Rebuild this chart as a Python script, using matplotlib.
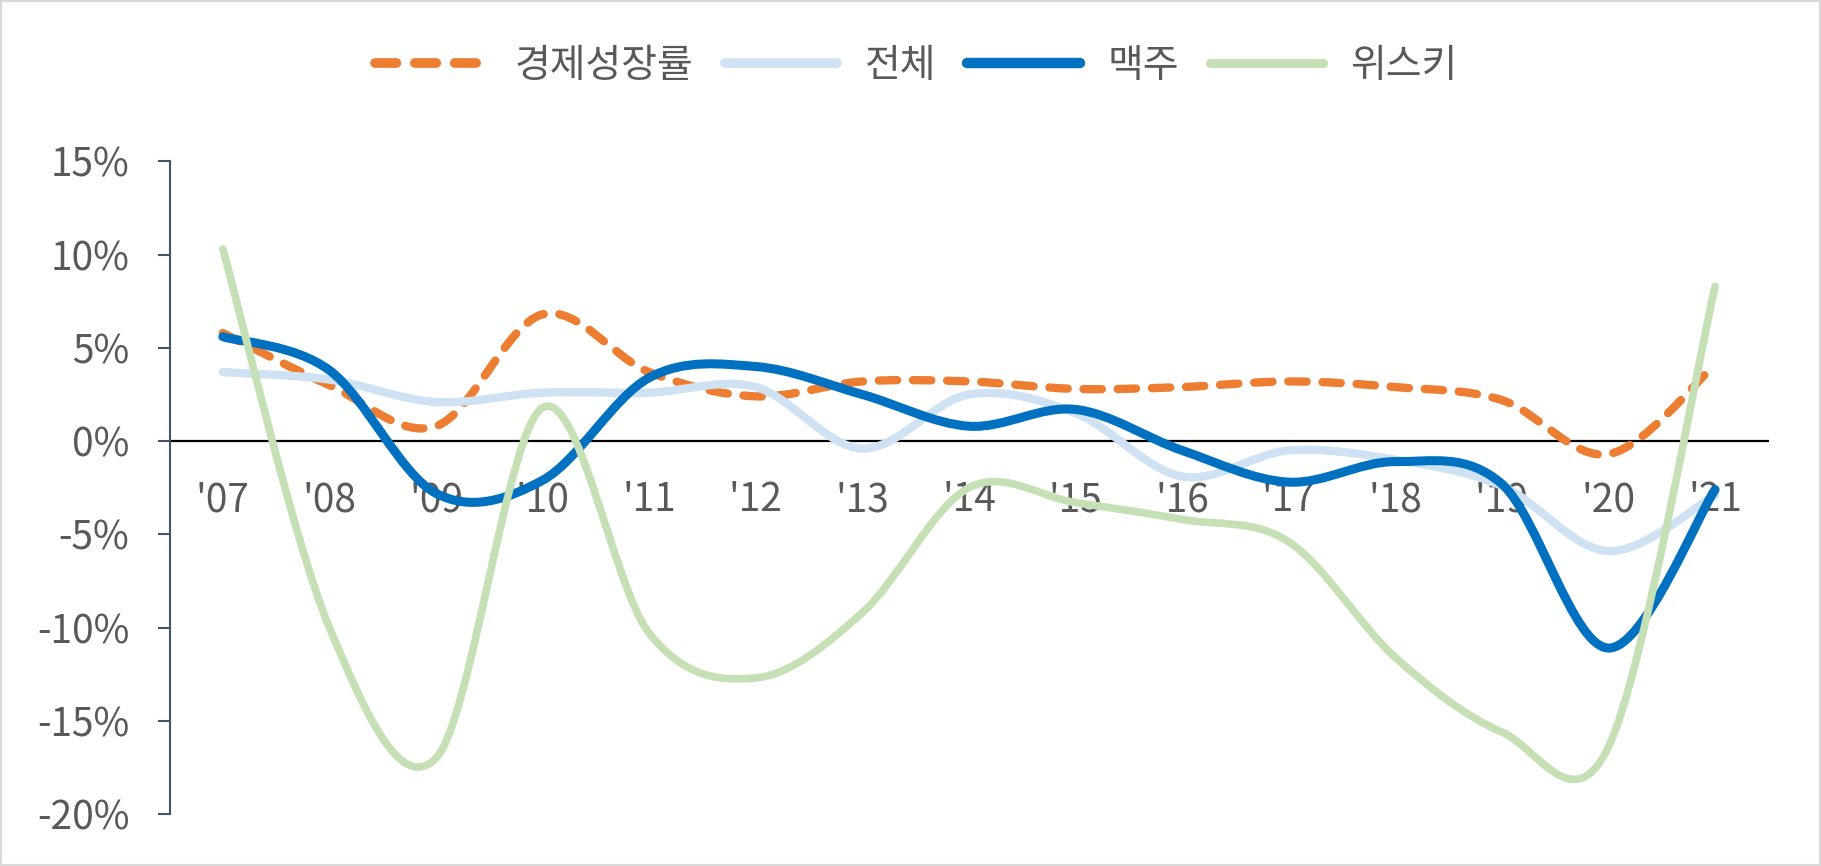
import matplotlib
matplotlib.use("Agg")
import matplotlib.pyplot as plt
from matplotlib.path import Path
from matplotlib.patches import PathPatch, Rectangle
from matplotlib.lines import Line2D
from matplotlib.ticker import FuncFormatter, FixedLocator

plt.rcParams['font.family'] = ['Noto Sans CJK KR', 'DejaVu Sans']
plt.rcParams['axes.unicode_minus'] = False

# ---- data (percent) ----
years = ["'07", "'08", "'09", "'10", "'11", "'12", "'13", "'14",
         "'15", "'16", "'17", "'18", "'19", "'20", "'21"]
gdp = [5.8, 3.0, 0.8, 6.8, 3.7, 2.4, 3.2, 3.2, 2.8, 2.9, 3.2, 2.9, 2.2, -0.7, 4.1]
total = [3.7, 3.3, 2.1, 2.6, 2.6, 2.9, -0.4, 2.5, 1.5, -1.9, -0.5, -1.0, -2.4, -5.9, -2.9]
beer = [5.6, 3.8, -2.8, -2.1, 3.4, 4.0, 2.5, 0.8, 1.7, -0.5, -2.2, -1.1, -2.3, -11.1, -2.6]
whisky = [10.3, -10.0, -17.0, 1.8, -10.3, -12.7, -9.2, -2.5, -3.3, -4.2, -5.4, -11.6, -15.6, -16.4, 8.3]

series_names = ["경제성장률", "전체", "맥주", "위스키"]
yticks = [15, 10, 5, 0, -5, -10, -15, -20]

colors = {"경제성장률": "#ED7D31", "전체": "#CFE2F3", "맥주": "#0070C0", "위스키": "#C5E0B4"}
widths = {"경제성장률": 6.0, "전체": 6.0, "맥주": 6.5, "위스키": 5.5}
styles = {"경제성장률": (0, (2.2, 1.9)), "전체": "-", "맥주": "-", "위스키": "-"}
TXT = "#595959"


def smooth_path(xs, ys):
    """Excel-style smoothed line: cubic Bezier through every data point."""
    n = len(xs)
    verts = [(xs[0], ys[0])]
    codes = [Path.MOVETO]
    for i in range(n - 1):
        a = i - 1 if i > 0 else i
        d = i + 2 if i + 2 < n else i + 1
        c1 = (xs[i] + (xs[i + 1] - xs[a]) / 6.0, ys[i] + (ys[i + 1] - ys[a]) / 6.0)
        c2 = (xs[i + 1] - (xs[d] - xs[i]) / 6.0, ys[i + 1] - (ys[d] - ys[i]) / 6.0)
        verts += [c1, c2, (xs[i + 1], ys[i + 1])]
        codes += [Path.CURVE4] * 3
    return Path(verts, codes)


fig = plt.figure(figsize=(18.21, 8.66), dpi=100)
fig.patches.append(Rectangle((0, 0), 1, 1, transform=fig.transFigure, fill=False,
                             edgecolor="#D9D9D9", linewidth=3, zorder=10))
ax = fig.add_axes([0.0931, 0.060, 0.878, 0.7536])

xs = list(range(len(years)))
data = {"경제성장률": gdp, "전체": total, "맥주": beer, "위스키": whisky}
handles = []
for k, name in enumerate(series_names):
    p = PathPatch(smooth_path(xs, data[name]), fill=False, edgecolor=colors[name],
                  linewidth=widths[name], linestyle=styles[name], capstyle='round',
                  joinstyle='round', zorder=3 + k)
    ax.add_patch(p)
    h = Line2D([], [], color=colors[name], linewidth=widths[name] + 1,
               linestyle=styles[name], solid_capstyle='round', dash_capstyle='round')
    handles.append(h)

ax.set_xlim(-0.5, len(years) - 0.5)
ax.set_ylim(-20, 15)

ax.yaxis.set_major_locator(FixedLocator(yticks))
ax.yaxis.set_major_formatter(FuncFormatter(lambda v, p: f"{v:.0f}%"))
ax.set_xticks(xs)
ax.set_xticklabels(years)

for s in ["top", "right"]:
    ax.spines[s].set_visible(False)
ax.spines["left"].set_color("#44546A")
ax.spines["left"].set_linewidth(1.5)
ax.spines["bottom"].set_position(("data", 0))
ax.spines["bottom"].set_color("black")
ax.spines["bottom"].set_linewidth(1.6)
ax.spines["bottom"].set_zorder(2)

ax.tick_params(axis="y", direction="out", length=9, width=1.5, color="#44546A",
               labelsize=28, labelcolor=TXT, pad=20)
ax.tick_params(axis="x", length=0, labelsize=28, labelcolor=TXT, pad=28)

leg = fig.legend(handles, series_names, loc="center", bbox_to_anchor=(0.503, 0.924),
                 ncol=4, frameon=False, fontsize=28, handlelength=2.9,
                 handletextpad=0.7, columnspacing=0.8, labelcolor=TXT)

fig.savefig("out.png", dpi=100)
